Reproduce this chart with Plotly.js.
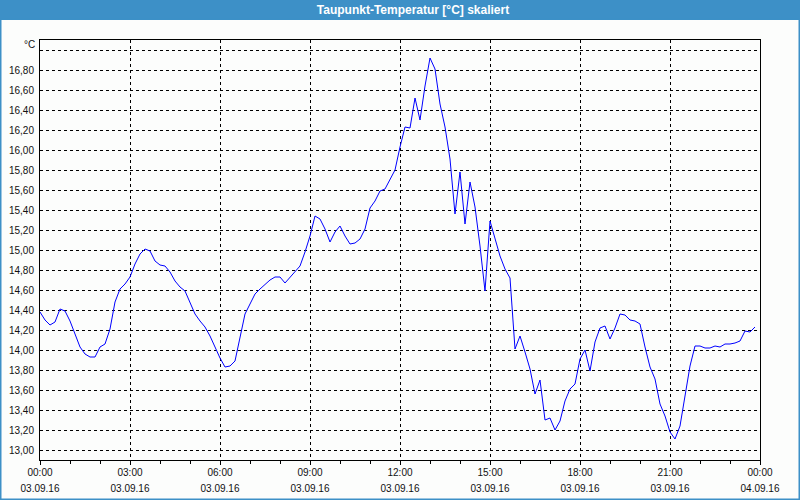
<!DOCTYPE html>
<html><head><meta charset="utf-8">
<script src="https://cdn.plot.ly/plotly-3.0.1.min.js"></script>
<style>html,body{margin:0;padding:0;background:#fcfdfc;overflow:hidden}#chart{width:800px;height:500px}</style>
</head><body><div id="chart"></div>
<script>
const chartTitle = 'Taupunkt-Temperatur [°C] skaliert';
const unitLabel = '°C';
const day = '2016-09-03';
const times = [
'00:00','00:10','00:20','00:30','00:40','00:50',
'01:00','01:10','01:20','01:30','01:40','01:50',
'02:00','02:10','02:20','02:30','02:40','02:50',
'03:00','03:10','03:20','03:30','03:40','03:50',
'04:00','04:10','04:20','04:30','04:40','04:50',
'05:00','05:10','05:20','05:30','05:40','05:50',
'06:00','06:10','06:20','06:30','06:40','06:50',
'07:00','07:10','07:20','07:30','07:40','07:50',
'08:00','08:10','08:20','08:30','08:40','08:50',
'09:00','09:10','09:20','09:30','09:40','09:50',
'10:00','10:10','10:20','10:30','10:40','10:50',
'11:00','11:10','11:20','11:30','11:40','11:50',
'12:00','12:10','12:20','12:30','12:40','12:50',
'13:00','13:10','13:20','13:30','13:40','13:50',
'14:00','14:10','14:20','14:30','14:40','14:50',
'15:00','15:10','15:20','15:30','15:40','15:50',
'16:00','16:10','16:20','16:30','16:40','16:50',
'17:00','17:10','17:20','17:30','17:40','17:50',
'18:00','18:10','18:20','18:30','18:40','18:50',
'19:00','19:10','19:20','19:30','19:40','19:50',
'20:00','20:10','20:20','20:30','20:40','20:50',
'21:00','21:10','21:20','21:30','21:40','21:50',
'22:00','22:10','22:20','22:30','22:40','22:50',
'23:00','23:10','23:20','23:30','23:40','23:50'
];
const dewPoint = [
14.38,14.30,14.25,14.28,14.41,14.39,
14.29,14.16,14.03,13.96,13.93,13.93,
14.03,14.06,14.21,14.48,14.61,14.66,
14.73,14.86,14.96,15.01,14.99,14.89,
14.85,14.84,14.78,14.69,14.63,14.59,
14.48,14.36,14.29,14.23,14.14,14.03,
13.92,13.83,13.84,13.89,14.11,14.36,
14.46,14.56,14.61,14.66,14.70,14.73,
14.73,14.67,14.73,14.78,14.84,14.98,
15.14,15.34,15.31,15.21,15.08,15.18,
15.24,15.14,15.06,15.07,15.11,15.21,
15.42,15.49,15.59,15.61,15.71,15.80,
16.03,16.23,16.22,16.52,16.30,16.64,
16.92,16.81,16.46,16.23,15.91,15.36,
15.78,15.26,15.68,15.43,15.04,14.59,
15.29,15.11,14.94,14.81,14.72,14.01,
14.14,13.98,13.81,13.56,13.70,13.30,
13.32,13.20,13.29,13.49,13.61,13.66,
13.91,14.00,13.79,14.08,14.22,14.24,
14.11,14.22,14.36,14.35,14.30,14.29,
14.26,14.03,13.83,13.71,13.46,13.34,
13.18,13.11,13.24,13.54,13.84,14.04,
14.04,14.02,14.02,14.04,14.03,14.06,
14.06,14.07,14.09,14.19,14.18,14.23
];
const yTickVals = [13.0,13.2,13.4,13.6,13.8,14.0,14.2,14.4,14.6,14.8,15.0,15.2,15.4,15.6,15.8,16.0,16.2,16.4,16.6,16.8,17.0];
const yTickText = ['13,00','13,20','13,40','13,60','13,80','14,00','14,20','14,40','14,60','14,80','15,00','15,20','15,40','15,60','15,80','16,00','16,20','16,40','16,60','16,80',''];
const xTickVals = ['2016-09-03 00:00','2016-09-03 03:00','2016-09-03 06:00','2016-09-03 09:00','2016-09-03 12:00','2016-09-03 15:00','2016-09-03 18:00','2016-09-03 21:00','2016-09-04 00:00'];
const xTickTimes = ['00:00','03:00','06:00','09:00','12:00','15:00','18:00','21:00','00:00'];
const xTickDates = ['03.09.16','03.09.16','03.09.16','03.09.16','03.09.16','03.09.16','03.09.16','03.09.16','04.09.16'];

const W = 800, H = 500, mL = 40, mR = 40, mT = 40, mB = 40;
const pw = W - mL - mR, ph = H - mT - mB;
const px = x => (x - mL) / pw;
const py = y => (H - mB - y) / ph;
const blue = '#3d90c7';
const span = s => "<span style='font-size:10px'>" + s + "</span>";

const trace = {
  x: times.map(t => day + ' ' + t),
  y: dewPoint,
  type: 'scatter', mode: 'lines',
  line: {color: '#0000ff', width: 1},
  hoverinfo: 'skip'
};

const layout = {
  width: W, height: H,
  margin: {l: mL, r: mR, t: mT, b: mB, pad: 0},
  paper_bgcolor: '#fcfdfc', plot_bgcolor: '#fcfdfc',
  showlegend: false,
  font: {family: 'Liberation Sans, Arial, sans-serif', size: 10, color: '#111'},
  title: {text: chartTitle, x: 413 / W, xanchor: 'center', y: 1 - 10 / H, yanchor: 'middle', xref: 'container', yref: 'container',
          font: {family: 'Liberation Sans, Arial, sans-serif', size: 12, color: '#ffffff', weight: 'bold'}},
  xaxis: {
    type: 'date', range: ['2016-09-03 00:00', '2016-09-04 00:00'],
    tickmode: 'array', tickvals: xTickVals,
    ticktext: xTickTimes.map((t, i) => span(t) + '<br>' + span(xTickDates[i])),
    tickfont: {size: 12.3, color: '#111'},
    ticks: 'outside', ticklen: 4, tickcolor: '#000', tickwidth: 1,
    minor: {dtick: 3600000, ticks: 'outside', ticklen: 3, tickcolor: '#000', showgrid: false},
    showgrid: true, gridcolor: '#000', gridwidth: 1, griddash: 'dot',
    showline: true, linecolor: '#000', linewidth: 1, mirror: true,
    zeroline: false, fixedrange: true, ticklabelstandoff: -4
  },
  yaxis: {
    range: [12.9, 17.1],
    tickmode: 'array', tickvals: yTickVals, ticktext: yTickText,
    tickfont: {size: 10, color: '#111'},
    ticks: '', ticklabelstandoff: 3,
    showgrid: true, gridcolor: '#000', gridwidth: 1, griddash: 'dot',
    showline: true, linecolor: '#000', linewidth: 1, mirror: true,
    zeroline: false, fixedrange: true
  },
  annotations: [{
    text: unitLabel, xref: 'paper', yref: 'paper', x: px(37), y: py(45),
    xanchor: 'right', yanchor: 'middle', showarrow: false,
    font: {size: 10, color: '#111'}
  }],
  shapes: [
    {type: 'rect', xref: 'paper', yref: 'paper', x0: px(0), x1: px(800), y0: py(20), y1: py(0),
     fillcolor: blue, line: {width: 0}, layer: 'below'},
    {type: 'rect', xref: 'paper', yref: 'paper', x0: px(0.75), x1: px(799.25), y0: py(499.25), y1: py(19),
     fillcolor: 'rgba(0,0,0,0)', line: {color: blue, width: 1.5}, layer: 'above'}
  ]
};

Plotly.newPlot('chart', [trace], layout, {staticPlot: true, displayModeBar: false});
</script>
</body></html>
